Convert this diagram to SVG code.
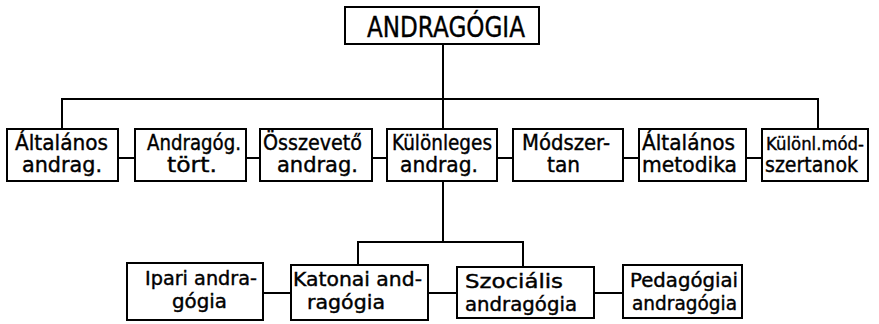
<svg xmlns="http://www.w3.org/2000/svg" width="879" height="324" viewBox="0 0 879 324">
<style>
.box{fill:#fff;stroke:#000;stroke-width:2}
.ln{fill:none;stroke:#000;stroke-width:2}
text{font-family:"DejaVu Sans","Liberation Sans",sans-serif;font-size:21px;fill:#000;stroke:#000;stroke-width:0.4}
.top{font-size:28px}
.sm{font-size:19px}
.xs{font-size:18px}
</style>
<rect width="879" height="324" fill="#fff"/>
<g id="connectors">
<path class="ln" d="M443,44V129M62,129V99H818V129"/>
<path class="ln" d="M118,158H135M246,158H260M372,158H387M497,158H513M623,158H639M746,158H762"/>
<path class="ln" d="M443,181V242M358,265V242H523V267"/>
<path class="ln" d="M263,293H291M428,293H457M594,293H623"/>
</g>
<g id="andragogia"><rect class="box" x="345" y="7" width="194" height="37"/><text class="top" x="367" y="37" textLength="158" lengthAdjust="spacingAndGlyphs">ANDRAGÓGIA</text></g>
<g id="altalanos-andrag"><rect class="box" x="7" y="129" width="111" height="52"/><text x="15" y="150" textLength="93" lengthAdjust="spacingAndGlyphs">Általános</text><text x="22" y="172" textLength="80" lengthAdjust="spacingAndGlyphs">andrag.</text></g>
<g id="andragog-tort"><rect class="box" x="135" y="129" width="111" height="52"/><text x="147" y="150" textLength="94" lengthAdjust="spacingAndGlyphs">Andragóg.</text><text x="167" y="172" textLength="50" lengthAdjust="spacingAndGlyphs">tört.</text></g>
<g id="osszeveto-andrag"><rect class="box" x="260" y="129" width="112" height="52"/><text x="263" y="150" textLength="99" lengthAdjust="spacingAndGlyphs">Összevető</text><text x="277" y="172" textLength="81" lengthAdjust="spacingAndGlyphs">andrag.</text></g>
<g id="kulonleges-andrag"><rect class="box" x="387" y="129" width="110" height="52"/><text x="392" y="150" textLength="100" lengthAdjust="spacingAndGlyphs">Különleges</text><text x="400" y="172" textLength="78" lengthAdjust="spacingAndGlyphs">andrag.</text></g>
<g id="modszertan"><rect class="box" x="513" y="129" width="110" height="52"/><text x="522" y="150" textLength="88" lengthAdjust="spacingAndGlyphs">Módszer-</text><text x="547" y="172" textLength="33" lengthAdjust="spacingAndGlyphs">tan</text></g>
<g id="altalanos-metodika"><rect class="box" x="639" y="129" width="107" height="52"/><text x="642" y="150" textLength="93" lengthAdjust="spacingAndGlyphs">Általános</text><text x="642" y="172" textLength="95" lengthAdjust="spacingAndGlyphs">metodika</text></g>
<g id="kulonl-modszertanok"><rect class="box" x="762" y="129" width="106" height="52"/><text class="xs" x="766" y="150" textLength="98" lengthAdjust="spacingAndGlyphs">Különl.mód-</text><text x="765" y="172" textLength="93" lengthAdjust="spacingAndGlyphs">szertanok</text></g>
<g id="ipari"><rect class="box" x="127" y="263" width="136" height="57"/><text class="sm" x="145" y="285" textLength="112" lengthAdjust="spacingAndGlyphs">Ipari andra-</text><text class="sm" x="172" y="308" textLength="55" lengthAdjust="spacingAndGlyphs">gógia</text></g>
<g id="katonai"><rect class="box" x="291" y="265" width="137" height="55"/><text class="sm" x="293" y="286" textLength="129" lengthAdjust="spacingAndGlyphs">Katonai and-</text><text class="sm" x="307" y="309" textLength="78" lengthAdjust="spacingAndGlyphs">ragógia</text></g>
<g id="szocialis"><rect class="box" x="457" y="267" width="137" height="51"/><text class="sm" x="465" y="288" textLength="98" lengthAdjust="spacingAndGlyphs">Szociális</text><text class="sm" x="465" y="311" textLength="112" lengthAdjust="spacingAndGlyphs">andragógia</text></g>
<g id="pedagogiai"><rect class="box" x="623" y="265" width="119" height="53"/><text class="sm" x="630" y="287" textLength="108" lengthAdjust="spacingAndGlyphs">Pedagógiai</text><text class="sm" x="632" y="310" textLength="105" lengthAdjust="spacingAndGlyphs">andragógia</text></g>
</svg>
